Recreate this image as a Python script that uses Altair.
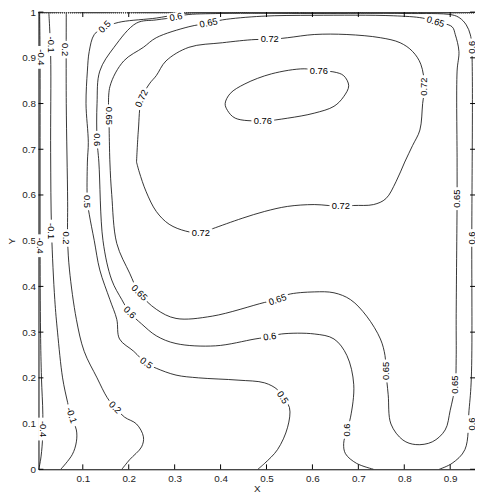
import altair as alt
import pandas as pd

# ---- axis ticks ----
x_ticks = [0.1, 0.2, 0.3, 0.4, 0.5, 0.6, 0.7, 0.8, 0.9]
y_ticks = [0.0, 0.1, 0.2, 0.3, 0.4, 0.5, 0.6, 0.7, 0.8, 0.9, 1.0]

# ---- contour paths ----
c_m04_x = [0.006, 0.007, 0.007, 0.007, 0.008, 0.010, 0.013, 0.012, 0.008, 0.004]
c_m04_y = [1.0, 0.9, 0.7, 0.5, 0.3, 0.2, 0.12, 0.06, 0.02, 0.0]

c_m01_x = [0.026, 0.030, 0.030, 0.032, 0.039, 0.045, 0.056, 0.067, 0.075, 0.086, 0.086, 0.077, 0.052]
c_m01_y = [1.0, 0.908, 0.693, 0.521, 0.371, 0.300, 0.200, 0.146, 0.114, 0.086, 0.060, 0.032, 0.0]

c_02_x = [0.064, 0.064, 0.067, 0.067, 0.071, 0.086, 0.103, 0.131, 0.153, 0.170, 0.191, 0.217, 0.232, 0.228, 0.202, 0.185]
c_02_y = [1.0, 0.800, 0.586, 0.500, 0.436, 0.328, 0.258, 0.200, 0.157, 0.135, 0.114, 0.099, 0.071, 0.049, 0.021, 0.0]

c_05_x = [0.954, 0.60, 0.40, 0.33, 0.300, 0.260, 0.185, 0.159, 0.148, 0.125, 0.114, 0.110, 0.107, 0.112, 0.110,
          0.110, 0.114, 0.125, 0.137, 0.159, 0.174, 0.180, 0.211, 0.238, 0.260, 0.303, 0.352, 0.438, 0.496,
          0.524, 0.535, 0.550, 0.546, 0.524, 0.496, 0.481]
c_05_y = [0.999, 0.999, 0.999, 0.998, 0.994, 0.987, 0.979, 0.972, 0.968, 0.951, 0.914, 0.871, 0.800, 0.715, 0.672,
          0.586, 0.558, 0.500, 0.436, 0.371, 0.328, 0.285, 0.258, 0.232, 0.221, 0.206, 0.200, 0.195, 0.189,
          0.174, 0.157, 0.135, 0.092, 0.043, 0.013, 0.0]

c_06_x = [0.876, 0.904, 0.932, 0.941, 0.946, 0.947, 0.947, 0.944, 0.935, 0.921, 0.904, 0.80, 0.60, 0.40, 0.324,
          0.303, 0.260, 0.217, 0.168, 0.137, 0.131, 0.131, 0.135, 0.144, 0.163, 0.185, 0.202, 0.228, 0.260,
          0.303, 0.389, 0.475, 0.507, 0.533, 0.604, 0.647, 0.675, 0.690, 0.683, 0.675, 0.668, 0.672, 0.696, 0.733]
c_06_y = [0.0, 0.013, 0.043, 0.129, 0.2, 0.5, 0.92, 0.950, 0.972, 0.987, 0.994, 0.997, 0.997, 0.997, 0.994,
          0.989, 0.983, 0.976, 0.923, 0.871, 0.800, 0.721, 0.672, 0.5, 0.414, 0.371, 0.343, 0.318, 0.292,
          0.275, 0.270, 0.285, 0.290, 0.296, 0.296, 0.285, 0.249, 0.185, 0.114, 0.086, 0.056, 0.034, 0.013, 0.0]

c_065_x = [0.157, 0.159, 0.189, 0.232, 0.260, 0.331, 0.374, 0.404, 0.490, 0.604, 0.776, 0.840, 0.868, 0.904,
           0.911, 0.919, 0.915, 0.915, 0.915, 0.913, 0.913, 0.911, 0.900, 0.889, 0.861, 0.825, 0.797, 0.771,
           0.765, 0.760, 0.758, 0.748, 0.718, 0.683, 0.647, 0.604, 0.546, 0.524, 0.496, 0.382, 0.303, 0.260,
           0.223, 0.202, 0.174, 0.163, 0.159, 0.157]
c_065_y = [0.773, 0.837, 0.893, 0.923, 0.944, 0.968, 0.976, 0.983, 0.991, 0.993, 0.992, 0.987, 0.979, 0.968,
           0.951, 0.914, 0.871, 0.672, 0.592, 0.328, 0.242, 0.185, 0.129, 0.086, 0.060, 0.054, 0.064, 0.099,
           0.163, 0.215, 0.249, 0.285, 0.335, 0.371, 0.386, 0.388, 0.382, 0.371, 0.365, 0.335, 0.330, 0.350,
           0.386, 0.429, 0.494, 0.601, 0.672, 0.773]

c_072_x = [0.217, 0.221, 0.228, 0.245, 0.260, 0.281, 0.331, 0.404, 0.475, 0.507, 0.546, 0.604, 0.675, 0.748,
           0.791, 0.818, 0.836, 0.844, 0.840, 0.834, 0.818, 0.801, 0.782, 0.760, 0.733, 0.690, 0.662, 0.604,
           0.546, 0.496, 0.447, 0.382, 0.357, 0.324, 0.288, 0.260, 0.238, 0.223, 0.217]
c_072_y = [0.672, 0.742, 0.811, 0.843, 0.861, 0.893, 0.923, 0.933, 0.940, 0.940, 0.944, 0.951, 0.951, 0.944,
           0.933, 0.914, 0.886, 0.837, 0.800, 0.742, 0.708, 0.672, 0.629, 0.592, 0.579, 0.577, 0.575, 0.579,
           0.575, 0.564, 0.549, 0.526, 0.517, 0.521, 0.536, 0.564, 0.607, 0.650, 0.672]

c_076_x = [0.614, 0.647, 0.668, 0.679, 0.668, 0.647, 0.604, 0.546, 0.492, 0.432, 0.415, 0.410, 0.421, 0.453,
           0.511, 0.582, 0.614]
c_076_y = [0.871, 0.869, 0.861, 0.839, 0.815, 0.794, 0.779, 0.768, 0.762, 0.768, 0.785, 0.800, 0.822, 0.843,
           0.865, 0.876, 0.871]

contours = [
    (-0.4, c_m04_x, c_m04_y),
    (-0.1, c_m01_x, c_m01_y),
    (0.2, c_02_x, c_02_y),
    (0.5, c_05_x, c_05_y),
    (0.6, c_06_x, c_06_y),
    (0.65, c_065_x, c_065_y),
    (0.72, c_072_x, c_072_y),
    (0.76, c_076_x, c_076_y),
]

# ---- contour labels ----
lab_text = ["-0.4", "-0.4", "-0.4", "-0.1", "-0.1", "-0.1", "0.2", "0.2", "0.2",
            "0.5", "0.5", "0.5", "0.5",
            "0.6", "0.6", "0.6", "0.6", "0.6", "0.6", "0.6", "0.6",
            "0.65", "0.65", "0.65", "0.65", "0.65", "0.65", "0.65", "0.65",
            "0.72", "0.72", "0.72", "0.72", "0.72", "0.76", "0.76"]
lab_x = [0.009, 0.007, 0.013, 0.030, 0.030, 0.075, 0.062, 0.064, 0.170,
         0.148, 0.110, 0.238, 0.535,
         0.303, 0.131, 0.202, 0.507, 0.675, 0.947, 0.947, 0.947,
         0.157, 0.374, 0.868, 0.915, 0.911, 0.760, 0.524, 0.223,
         0.228, 0.507, 0.844, 0.662, 0.357, 0.614, 0.492]
lab_y = [0.901, 0.489, 0.088, 0.929, 0.521, 0.118, 0.918, 0.506, 0.135,
         0.968, 0.586, 0.232, 0.157,
         0.989, 0.721, 0.343, 0.290, 0.086, 0.923, 0.506, 0.099,
         0.773, 0.976, 0.979, 0.592, 0.185, 0.215, 0.371, 0.386,
         0.811, 0.940, 0.837, 0.575, 0.517, 0.871, 0.762]
lab_angle = [90, 90, 90, 90, 90, 72, 90, 90, 45,
             315, 90, 36, 56,
             349, 90, 45, 352, 270, 270, 270, 270,
             90, 348, 17, 270, 270, 270, 341, 45,
             295, 0, 270, 0, 0, 0, 0]

rows = []
for cid, (lvl, xs_, ys_) in enumerate(contours):
    for i, (xv, yv) in enumerate(zip(xs_, ys_)):
        rows.append({"cid": cid, "level": lvl, "i": i, "x": xv, "y": yv})
df = pd.DataFrame(rows)
labels = pd.DataFrame({"text": lab_text, "x": lab_x, "y": lab_y, "angle": lab_angle})
xt = pd.DataFrame({"v": x_ticks})
yt = pd.DataFrame({"v": y_ticks})

W, H = 444, 465
TL = 5
FONT = "Liberation Sans"
xs = alt.Scale(domain=[0.0035, 0.954], nice=False, zero=False)
ys = alt.Scale(domain=[0.0, 1.0], nice=False, zero=False)

lines = alt.Chart(df).mark_line(
    color="#000", strokeWidth=0.8, interpolate="catmull-rom", clip=True
).encode(
    x=alt.X("x:Q", scale=xs, axis=alt.Axis(
        values=x_ticks, format=".1~f", ticks=False, domain=True, domainColor="#000",
        domainWidth=1, grid=False,
        labelPadding=4, labelFontSize=10, labelFont=FONT, labelColor="#222",
        title="X", titlePadding=1, titleFontSize=10, titleFont=FONT,
        titleFontWeight="normal", titleColor="#222")),
    y=alt.Y("y:Q", scale=ys, axis=alt.Axis(
        values=y_ticks, format=".1~f", ticks=False, domain=True, domainColor="#000",
        domainWidth=1, grid=False,
        labelPadding=3, labelFontSize=10, labelFont=FONT, labelColor="#222",
        title="Y", titlePadding=5, titleFontSize=10, titleFont=FONT,
        titleFontWeight="normal", titleColor="#222")),
    detail="cid:N",
    order="i:Q",
)

# dotted upper edge of the box
top_edge = alt.Chart(xt).mark_rule(color="#444", strokeWidth=1, strokeDash=[1, 1]).encode(
    x=alt.value(0), x2=alt.value(W), y=alt.value(0.5))

# inward tick marks, placed through the scales from the tick arrays
xt_bottom = alt.Chart(xt).mark_rule(color="#000", strokeWidth=1).encode(
    x=alt.X("v:Q", scale=xs), y=alt.value(H), y2=alt.value(H - TL))
xt_top = alt.Chart(xt).mark_rule(color="#000", strokeWidth=1).encode(
    x=alt.X("v:Q", scale=xs), y=alt.value(0), y2=alt.value(TL))
yt_left = alt.Chart(yt).mark_rule(color="#000", strokeWidth=1).encode(
    y=alt.Y("v:Q", scale=ys), x=alt.value(0), x2=alt.value(TL))
yt_right = alt.Chart(yt).mark_rule(color="#000", strokeWidth=1).encode(
    y=alt.Y("v:Q", scale=ys), x=alt.value(W), x2=alt.value(W - TL))

boxes = alt.Chart(labels).transform_calculate(
    shp="length(datum.text) > 3 ? 'M-1,-0.42H1V0.42H-1Z' : 'M-1,-0.55H1V0.55H-1Z'",
    sz="pow(length(datum.text) * 5.3 + 2, 2)",
).mark_point(filled=True, color="white", opacity=1, strokeWidth=0).encode(
    x=alt.X("x:Q", scale=xs),
    y=alt.Y("y:Q", scale=ys),
    shape=alt.Shape("shp:N", scale=None),
    size=alt.Size("sz:Q", scale=None),
    angle=alt.Angle("angle:Q", scale=None),
)

texts = alt.Chart(labels).mark_text(
    font=FONT, fontSize=9.5, color="#000", align="center", baseline="middle"
).encode(
    x=alt.X("x:Q", scale=xs),
    y=alt.Y("y:Q", scale=ys),
    text="text:N",
    angle=alt.Angle("angle:Q", scale=None),
)

chart = alt.layer(
    lines, top_edge, xt_bottom, xt_top, yt_left, yt_right, boxes, texts
).properties(
    width=W, height=H,
    autosize=alt.AutoSizeParams(type="none"),
    padding={"left": 31, "top": 0, "right": 0, "bottom": 23},
    background="white",
).configure_view(stroke="transparent")

chart.save("out.html", embed_options={"renderer": "svg", "actions": False})
